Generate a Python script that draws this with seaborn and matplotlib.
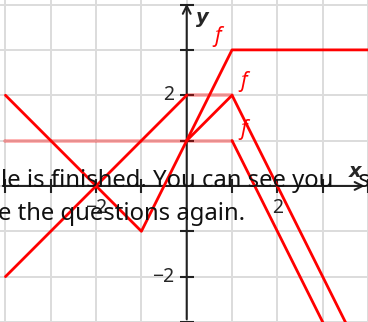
import matplotlib
matplotlib.use("Agg")
import matplotlib.pyplot as plt
import seaborn as sns

# data: polylines of the graphs (x, y pairs in axis units)
line_a_x = [-4, -1, 1, 4]
line_a_y = [2, -1, 3, 3]
line_b_x = [-4, 0]
line_b_y = [-2, 2]
line_c_x = [0, 1, 3.6]
line_c_y = [1, 2, -3.2]
line_d_x = [1, 3.1]
line_d_y = [1, -3.2]
# faded flat pieces
flat_1_x = [-4, 1]
flat_1_y = [1, 1]
flat_2_x = [0, 1]
flat_2_y = [2, 2]

grid_x = list(range(-4, 5))
grid_y = list(range(-3, 5))
xtick_labels = {-2: "\u22122", 2: "2"}
ytick_labels = {-2: "\u22122", 2: "2"}
f_labels_x = [0.68, 1.25, 1.25]
f_labels_y = [3.3, 2.3, 1.25]

msg_line1 = "le is finished. You can see you    s"
msg_line2 = "e the questions again."

sns.set_style("white")
plt.rcParams["font.family"] = ["Noto Sans", "DejaVu Sans"]

fig = plt.figure(figsize=(3.68, 3.22), dpi=100)
ax = fig.add_axes([0, 0, 1, 1])
ax.set_xlim(-4.12, 3.99)
ax.set_ylim(-3.0, 4.1)

# grid
ax.set_xticks(grid_x)
ax.set_yticks(grid_y)
ax.grid(True, color="#dcdcdc", lw=1.4)
ax.tick_params(length=0, labelbottom=False, labelleft=False)
for s in ax.spines.values():
    s.set_visible(False)

# message text behind the graph lines
fig.text(0.004, 1 - 187 / 322, msg_line1, fontsize=17.2, color="#111111",
         va="baseline", ha="left", zorder=1)
fig.text(-0.006, 1 - 219.5 / 322, msg_line2, fontsize=17.2, color="#111111",
         va="baseline", ha="left", zorder=1)

# axes with arrows
ax.annotate("", xy=(3.99, 0), xytext=(-4.12, 0),
            arrowprops=dict(arrowstyle="->", color="#222222", lw=1.5,
                            mutation_scale=14), zorder=3)
ax.annotate("", xy=(0, 4.08), xytext=(0, -3.0),
            arrowprops=dict(arrowstyle="->", color="#222222", lw=1.5,
                            mutation_scale=14), zorder=3)
ax.plot([v for v in grid_x if v != 0], [0] * (len(grid_x) - 1), ls="none",
        marker="|", ms=10, mew=1.5, color="#222222", zorder=3)
ax.plot([0] * (len(grid_y) - 1), [v for v in grid_y if v != 0], ls="none",
        marker="_", ms=10, mew=1.5, color="#222222", zorder=3)

for v, t in xtick_labels.items():
    ax.text(v, -0.48, t, fontsize=14, ha="center", va="center", zorder=4)
for v, t in ytick_labels.items():
    ax.text(-0.27, v, t, fontsize=14, ha="right", va="center", zorder=4)
ax.text(0.2, 3.72, "y", fontsize=14, style="italic", weight="bold",
        family="DejaVu Sans", ha="left", va="center")
ax.text(3.72, 0.32, "x", fontsize=14, style="italic", weight="bold",
        family="DejaVu Sans", ha="center", va="center")

# faded flat pieces
for xs, ys in [(flat_1_x, flat_1_y), (flat_2_x, flat_2_y)]:
    sns.lineplot(x=xs, y=ys, ax=ax, color="red", alpha=0.35, lw=2.6,
                 sort=False, estimator=None, zorder=5)

# graph lines
for xs, ys in [(line_a_x, line_a_y), (line_b_x, line_b_y),
               (line_c_x, line_c_y), (line_d_x, line_d_y)]:
    sns.lineplot(x=xs, y=ys, ax=ax, color="red", lw=2,
                 sort=False, estimator=None, zorder=6)

for fx, fy in zip(f_labels_x, f_labels_y):
    ax.text(fx, fy, "f", color="red", fontsize=15, style="italic",
            ha="center", va="center", zorder=7)

fig.savefig("out.png", dpi=100)
